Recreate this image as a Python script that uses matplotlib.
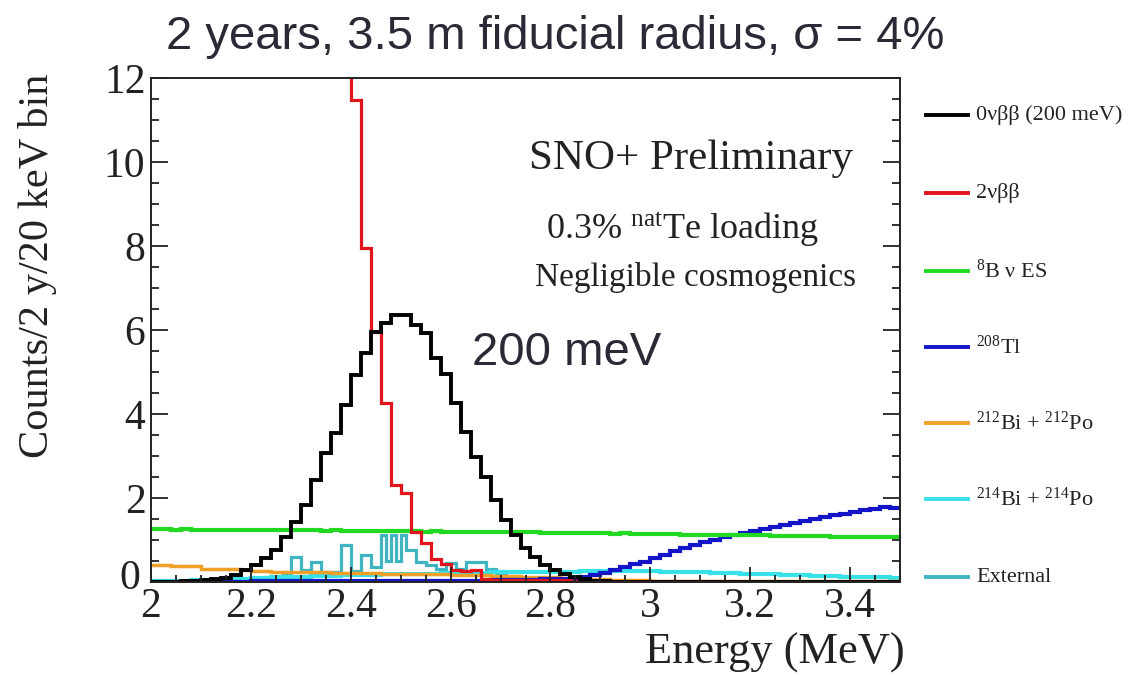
import numpy as np
import matplotlib
matplotlib.use("Agg")
import matplotlib.pyplot as plt
from matplotlib.lines import Line2D
from matplotlib.ticker import MultipleLocator
from matplotlib.transforms import ScaledTranslation

plt.rcParams['font.family'] = ['Liberation Serif', 'DejaVu Serif']
plt.rcParams['mathtext.fontset'] = 'custom'
plt.rcParams['mathtext.rm'] = 'Liberation Serif'
plt.rcParams['mathtext.it'] = 'Liberation Serif:italic'

# 20 keV bins from 2.0 to 3.5 MeV
e_lo, e_hi, bw = 2.0, 3.5, 0.02

zero_nu = [0.00, 0.00, 0.01, 0.02, 0.03, 0.04, 0.06, 0.10, 0.17, 0.29,
           0.40, 0.57, 0.76, 1.07, 1.43, 1.83, 2.43, 3.07, 3.55, 4.21,
           4.93, 5.45, 5.95, 6.17, 6.35, 6.35, 6.12, 5.93, 5.33, 4.95,
           4.26, 3.57, 2.98, 2.50, 1.95, 1.48, 1.12, 0.81, 0.60, 0.40,
           0.29, 0.20, 0.12, 0.07, 0.03, 0.02, 0.01, 0.01, 0.00, 0.00,
           0.00, 0.00, 0.00, 0.00, 0.00, 0.00, 0.00, 0.00, 0.00, 0.00,
           0.00, 0.00, 0.00, 0.00, 0.00, 0.00, 0.00, 0.00, 0.00, 0.00,
           0.00, 0.00, 0.00, 0.00, 0.00]

two_nu = [40.0, 38.0, 36.0, 34.0, 32.0, 30.0, 28.0, 26.0, 24.0, 22.0,
          21.0, 20.0, 19.0, 18.0, 17.0, 16.0, 15.0, 14.0, 13.5, 13.0,
          11.48, 7.95, 5.95, 4.26, 2.31, 2.12, 1.19, 0.93, 0.55, 0.42,
          0.29, 0.27, 0.29, 0.06, 0.05, 0.05, 0.05, 0.05, 0.04, 0.04,
          0.04, 0.04, 0.03, 0.03, 0.03, 0.03, 0.03, 0.03, 0.03, 0.02,
          0.02, 0.02, 0.02, 0.02, 0.02, 0.02, 0.02, 0.01, 0.01, 0.01,
          0.01, 0.01, 0.01, 0.01, 0.01, 0.01, 0.01, 0.01, 0.01, 0.01,
          0.01, 0.01, 0.01, 0.01, 0.01]

b8 = [1.26, 1.26, 1.25, 1.26, 1.25, 1.25, 1.25, 1.24, 1.25, 1.24,
      1.24, 1.24, 1.23, 1.24, 1.23, 1.23, 1.23, 1.22, 1.23, 1.22,
      1.22, 1.22, 1.21, 1.22, 1.21, 1.21, 1.21, 1.20, 1.21, 1.20,
      1.20, 1.20, 1.19, 1.19, 1.19, 1.18, 1.19, 1.18, 1.18, 1.17,
      1.17, 1.17, 1.16, 1.17, 1.16, 1.16, 1.15, 1.16, 1.15, 1.15,
      1.14, 1.14, 1.14, 1.13, 1.13, 1.13, 1.12, 1.12, 1.12, 1.11,
      1.11, 1.11, 1.10, 1.10, 1.10, 1.09, 1.09, 1.09, 1.08, 1.08,
      1.08, 1.07, 1.07, 1.06, 1.06]

tl208 = [0.00, 0.00, 0.00, 0.00, 0.00, 0.00, 0.00, 0.00, 0.00, 0.01,
         0.02, 0.02, 0.02, 0.02, 0.03, 0.03, 0.03, 0.03, 0.03, 0.03,
         0.03, 0.03, 0.03, 0.03, 0.03, 0.03, 0.03, 0.03, 0.03, 0.03,
         0.03, 0.03, 0.03, 0.03, 0.04, 0.04, 0.04, 0.05, 0.05, 0.06,
         0.07, 0.08, 0.10, 0.12, 0.16, 0.22, 0.29, 0.35, 0.42, 0.48,
         0.58, 0.65, 0.74, 0.80, 0.88, 0.95, 1.00, 1.07, 1.12, 1.16,
         1.22, 1.27, 1.32, 1.36, 1.41, 1.45, 1.50, 1.55, 1.60, 1.63,
         1.67, 1.71, 1.73, 1.79, 1.77]

bipo212 = [0.40, 0.40, 0.39, 0.38, 0.37, 0.31, 0.31, 0.30, 0.30, 0.29,
           0.27, 0.26, 0.25, 0.25, 0.24, 0.24, 0.23, 0.23, 0.22, 0.22,
           0.22, 0.21, 0.21, 0.20, 0.20, 0.20, 0.19, 0.19, 0.18, 0.18,
           0.17, 0.17, 0.16, 0.16, 0.15, 0.15, 0.14, 0.13, 0.12, 0.12,
           0.11, 0.10, 0.09, 0.08, 0.07, 0.06, 0.05, 0.05, 0.04, 0.04,
           0.03, 0.03, 0.03, 0.03, 0.03, 0.03, 0.03, 0.03, 0.03, 0.03,
           0.03, 0.03, 0.03, 0.03, 0.03, 0.03, 0.03, 0.03, 0.03, 0.03,
           0.03, 0.03, 0.03, 0.03, 0.03]

bipo214 = [0.02, 0.02, 0.03, 0.03, 0.04, 0.04, 0.05, 0.06, 0.07, 0.08,
           0.09, 0.10, 0.11, 0.12, 0.12, 0.13, 0.14, 0.14, 0.15, 0.16,
           0.16, 0.17, 0.17, 0.18, 0.18, 0.19, 0.19, 0.20, 0.20, 0.21,
           0.21, 0.22, 0.22, 0.22, 0.23, 0.23, 0.23, 0.24, 0.24, 0.24,
           0.25, 0.25, 0.25, 0.26, 0.26, 0.26, 0.27, 0.27, 0.27, 0.26,
           0.26, 0.25, 0.25, 0.24, 0.23, 0.23, 0.22, 0.21, 0.21, 0.20,
           0.19, 0.19, 0.18, 0.17, 0.16, 0.16, 0.15, 0.14, 0.14, 0.13,
           0.12, 0.12, 0.11, 0.11, 0.10]

# External: 10 keV bins starting at 2.26 MeV
ext_lo, ext_bw = 2.26, 0.01
external = [0.20, 0.20, 0.60, 0.60, 0.29, 0.29, 0.48, 0.48, 0.24, 0.24,
            0.24, 0.24, 0.88, 0.88, 0.27, 0.27, 0.64, 0.64, 0.36, 0.36,
            1.12, 0.50, 1.12, 0.50, 1.12, 0.76, 0.76, 0.48, 0.48, 0.40,
            0.40, 0.30, 0.30, 0.45, 0.45, 0.30, 0.30, 0.48, 0.48, 0.48,
            0.48, 0.30, 0.30, 0.20, 0.20, 0.15, 0.15, 0.10, 0.10, 0.10]

x_ticks = [2.0, 2.2, 2.4, 2.6, 2.8, 3.0, 3.2, 3.4]
x_tick_labels = ['2', '2.2', '2.4', '2.6', '2.8', '3', '3.2', '3.4']
y_ticks = [0, 2, 4, 6, 8, 10, 12]

labels = ['0\u03bd\u03b2\u03b2 (200 meV)', '2\u03bd\u03b2\u03b2', '$^{8}$B \u03bd ES',
          '$^{208}$Tl', '$^{212}$Bi + $^{212}$Po', '$^{214}$Bi + $^{214}$Po', 'External']
colors = ['#000000', '#e0141c', '#22d822', '#1414c8', '#f0a028', '#38e0e8', '#40b4c0']

edges = e_lo + bw * np.arange(len(zero_nu) + 1)
ext_edges = ext_lo + ext_bw * np.arange(len(external) + 1)

fig = plt.figure(figsize=(11.35, 6.75), dpi=100)
ax = fig.add_axes([151/1135, 1 - 582/675, (900-151)/1135, (582-78)/675])

ax.stairs(external, ext_edges, color=colors[6], lw=2.3, baseline=None)
ax.stairs(bipo214, edges, color=colors[5], lw=3.0, baseline=None)
ax.stairs(bipo212, edges, color=colors[4], lw=2.5, baseline=None)
ax.stairs(tl208, edges, color=colors[3], lw=3.0, baseline=None)
ax.stairs(b8, edges, color=colors[2], lw=3.0, baseline=None)
ax.stairs(two_nu, edges, color=colors[1], lw=2.3, baseline=None)
ax.stairs(zero_nu, edges, color=colors[0], lw=2.8, baseline=None)

ax.set_xlim(e_lo, e_hi)
ax.set_ylim(0, 12)
ax.set_xticks(x_ticks)
ax.set_xticklabels(x_tick_labels)
ax.set_yticks(y_ticks)
ax.xaxis.set_minor_locator(MultipleLocator(0.05))
ax.yaxis.set_minor_locator(MultipleLocator(0.5))
ax.tick_params(which='both', direction='in', top=False, right=True, labelsize=30,
               width=1.3, colors='#222222')
ax.tick_params(axis='x', which='major', length=11, pad=4)
ax.tick_params(axis='x', which='minor', length=5)
ax.tick_params(axis='y', which='major', length=12, pad=4)
ax.tick_params(axis='y', which='minor', length=6)
for s in ax.spines.values():
    s.set_linewidth(1.4)
    s.set_color('#222222')

# nudge the y "0" so it does not sit on the x "2"
lab0 = ax.yaxis.get_major_ticks()[0].label1
lab0.set_transform(lab0.get_transform() + ScaledTranslation(-5/100, 8/100, fig.dpi_scale_trans))

fig.text(38/1135, 1 - 73/675, 'Counts/2 y/20 keV bin', rotation=90, ha='center',
         va='top', fontsize=30.5, color='#222222')
fig.text(905/1135, 1 - 653/675, 'Energy (MeV)', ha='right', va='center',
         fontsize=32, color='#222222')

ax.text(0.721, 0.84, 'SNO+ Preliminary', transform=ax.transAxes, ha='center',
        va='center', fontsize=31, color='#222222')
ax.text(0.71, 0.70, r'0.3% $^{\mathrm{nat}}$Te loading', transform=ax.transAxes,
        ha='center', va='center', fontsize=26, color='#222222')
ax.text(0.727, 0.605, 'Negligible cosmogenics', transform=ax.transAxes,
        ha='center', va='center', fontsize=24, color='#222222')
ax.text(0.429, 0.455, '200 meV', transform=ax.transAxes, ha='left', va='center',
        fontsize=34, family='Liberation Sans', color='#2a2a36')

fig.text(555/1135, 1 - 37/675, '2 years, 3.5 m fiducial radius, \u03c3 = 4%',
         ha='center', va='center', fontsize=34, family='Liberation Sans',
         color='#2a2a36')

# legend to the right of the axes
leg_y = [115, 193, 271, 347, 423, 499, 577]
for lab, col, ly in zip(labels, colors, leg_y):
    fig.add_artist(Line2D([926/1135, 968/1135], [1 - ly/675, 1 - ly/675],
                          color=col, lw=2.8))
    fig.text(976/1135, 1 - ly/675, lab, ha='left', va='center', fontsize=16,
             color='#222222')

fig.savefig('out.png', dpi=100)
